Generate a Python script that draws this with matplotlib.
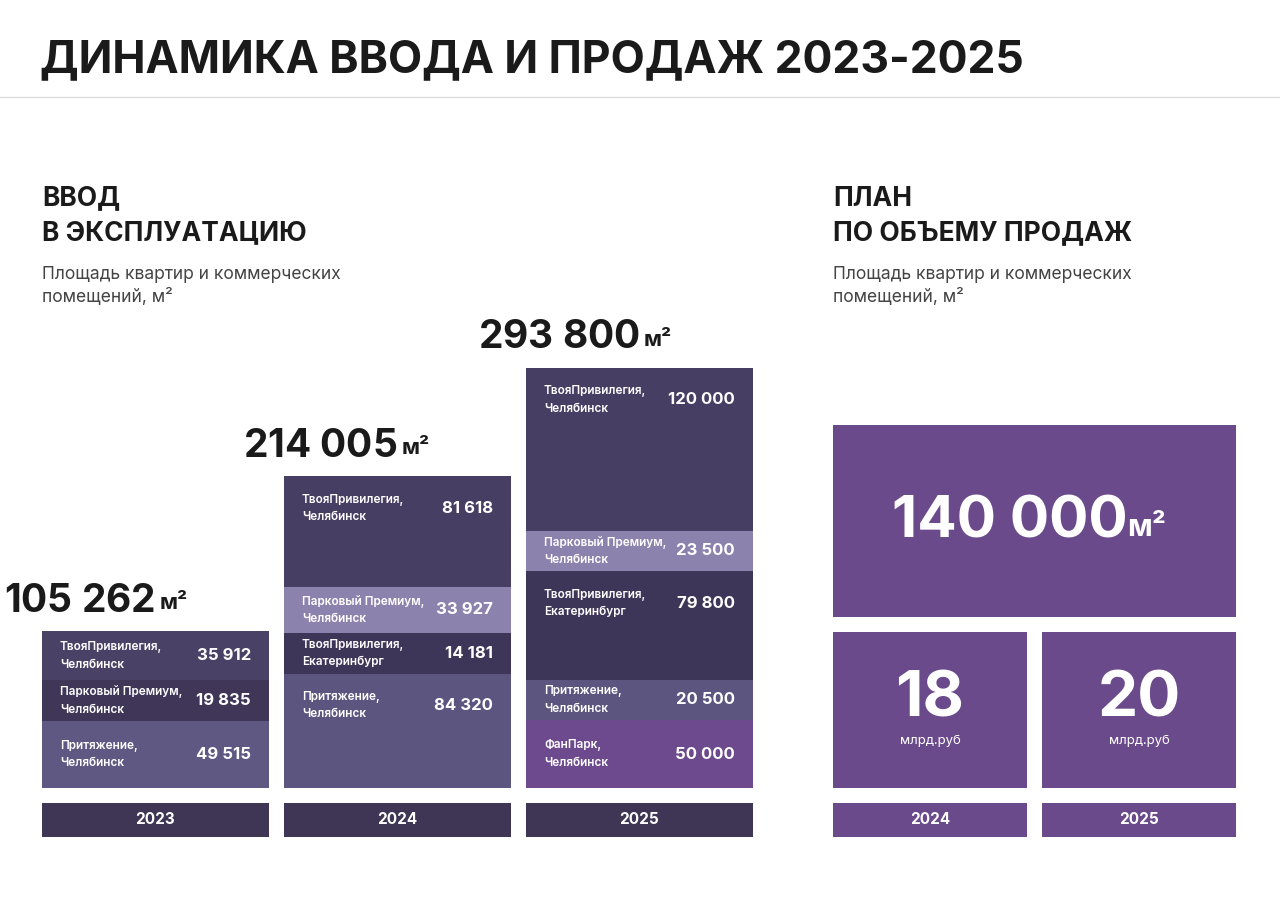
import matplotlib.pyplot as plt
from matplotlib.patches import Rectangle

plt.rcParams['font.family'] = 'Inter'

years = ['2023', '2024', '2025']
totals = ['105 262', '214 005', '293 800']
names = [
    ['ТвояПривилегия,\nЧелябинск', 'Парковый Премиум,\nЧелябинск', 'Притяжение,\nЧелябинск'],
    ['ТвояПривилегия,\nЧелябинск', 'Парковый Премиум,\nЧелябинск', 'ТвояПривилегия,\nЕкатеринбург',
     'Притяжение,\nЧелябинск'],
    ['ТвояПривилегия,\nЧелябинск', 'Парковый Премиум,\nЧелябинск', 'ТвояПривилегия,\nЕкатеринбург',
     'Притяжение,\nЧелябинск', 'ФанПарк,\nЧелябинск'],
]
values = [
    [35912, 19835, 49515],
    [81618, 33927, 14181, 84320],
    [120000, 23500, 79800, 20500, 50000],
]
colors = [
    ['#4a4266', '#3f3658', '#5f5883'],
    ['#463e63', '#8b82ad', '#3e3658', '#5c5580'],
    ['#463e63', '#8b82ad', '#3e3658', '#5c5580', '#6d4a8e'],
]
plan_total = '140 000'
plan_years = ['2024', '2025']
plan_money = ['18', '20']

DARK = '#3f3656'
PLAN = '#6b4a8c'
TXT = '#1a1a1a'

fig = plt.figure(figsize=(12.8, 8.99), dpi=100)
ax = fig.add_axes([0, 0, 1, 1])
ax.set_xlim(0, 1280)
ax.set_ylim(899, 0)
ax.axis('off')

ax.text(40, 60, 'ДИНАМИКА ВВОДА И ПРОДАЖ 2023-2025', fontsize=32, fontweight='bold',
        color=TXT, va='center')
ax.plot([0, 1280], [97, 97], color='#dddddd', lw=1)

for x0, head in [(42, 'ВВОД\nВ ЭКСПЛУАТАЦИЮ'), (833, 'ПЛАН\nПО ОБЪЕМУ ПРОДАЖ')]:
    ax.text(x0, 216, head, fontsize=19, fontweight='bold', color=TXT, va='center',
            linespacing=1.45)
    ax.text(x0, 286, 'Площадь квартир и коммерческих\nпомещений, м²', fontsize=12.5,
            color='#444444', va='center', linespacing=1.4)

# stacked columns, small segments get a minimum visible height
scale = 0.001356
min_val = 30000
base = 788
bw = 227
xs = [42, 284, 526]
for i, x0 in enumerate(xs):
    top = base
    for name, v, c in zip(names[i][::-1], values[i][::-1], colors[i][::-1]):
        h = max(v, min_val) * scale
        ax.bar(x0, h, bottom=top - h, width=bw, align='edge', color=c, lw=0)
        yc = top - h / 2 if h < 100 else top - h + 32
        ax.text(x0 + 18, yc, name, fontsize=8.5, color='white', va='center',
                linespacing=1.6, fontweight='semibold')
        ax.text(x0 + bw - 18, yc, f'{v:,}'.replace(',', ' '), fontsize=12, color='white',
                va='center', ha='right', fontweight='bold')
        top -= h
    ax.text(x0 + bw / 2, top - 30, totals[i] + r'$\,$', fontsize=28, fontweight='bold',
            color=TXT, ha='right', va='center')
    ax.text(x0 + bw / 2 + 4, top - 28, 'м²', fontsize=16, fontweight='bold', color=TXT,
            ha='left', va='center')
    ax.add_patch(Rectangle((x0, 803), bw, 34, color=DARK, lw=0))
    ax.text(x0 + bw / 2, 820, years[i], fontsize=11, color='white', fontweight='bold',
            ha='center', va='center')

# plan panel
ax.add_patch(Rectangle((833, 425), 403, 192, color=PLAN, lw=0))
ax.text(1010, 522, plan_total, fontsize=42, fontweight='bold', color='white',
        ha='center', va='center')
ax.text(1127, 528, 'м²', fontsize=22, fontweight='bold', color='white', ha='left', va='center')
for j, x0 in enumerate([833, 1042]):
    ax.add_patch(Rectangle((x0, 632), 194, 156, color=PLAN, lw=0))
    ax.text(x0 + 97, 700, plan_money[j], fontsize=46, fontweight='bold', color='white',
            ha='center', va='center')
    ax.text(x0 + 97, 741, 'млрд.руб', fontsize=9.5, color='white', ha='center', va='center')
    ax.add_patch(Rectangle((x0, 803), 194, 34, color=PLAN, lw=0))
    ax.text(x0 + 97, 820, plan_years[j], fontsize=11, color='white', fontweight='bold',
            ha='center', va='center')

fig.savefig('out.png', dpi=100)
